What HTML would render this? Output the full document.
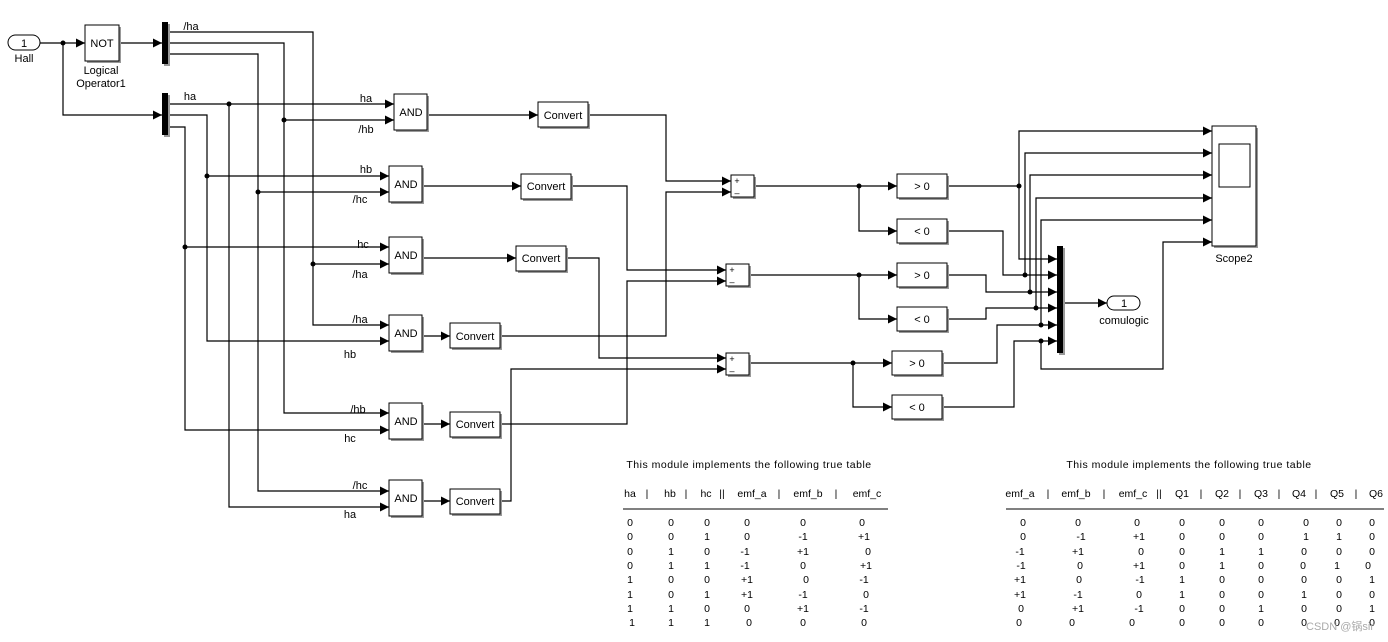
<!DOCTYPE html>
<html><head><meta charset="utf-8"><style>
html,body{margin:0;padding:0;background:#fff;}
svg{display:block;font-family:"Liberation Sans","Noto Sans CJK SC",sans-serif;}
</style></head><body>
<svg width="1388" height="642" viewBox="0 0 1388 642" xmlns="http://www.w3.org/2000/svg">
<defs>
<marker id="a" viewBox="0 0 10 10" refX="10" refY="5" markerWidth="9" markerHeight="9" markerUnits="userSpaceOnUse" orient="auto"><path d="M0,0L10,5L0,10z" fill="#000"/></marker>
</defs>
<rect width="1388" height="642" fill="#fff"/>
<g fill="none" stroke="#000" stroke-width="1.2" marker-end="url(#a)">
<path d="M40,43H85"/>
<path d="M63,43V115H162"/>
<path d="M119,43H162"/>
<path d="M168,32H313V325H389"/>
<path d="M313,264H389"/>
<path d="M168,43H284V413H389"/>
<path d="M284,120H394"/>
<path d="M168,54H258V491H389"/>
<path d="M258,192H389"/>
<path d="M168,104H394"/>
<path d="M229,104V507H389"/>
<path d="M168,115H207V341H389"/>
<path d="M207,176H389"/>
<path d="M168,127H185V430H389"/>
<path d="M185,247H389"/>
<path d="M427,115H538"/>
<path d="M422,186H521"/>
<path d="M422,258H516"/>
<path d="M422,336H450"/>
<path d="M422,424H450"/>
<path d="M422,501H450"/>
<path d="M588,115H666V181H731"/>
<path d="M500,336H666V192H731"/>
<path d="M571,186H627V270H726"/>
<path d="M500,424H627V281H726"/>
<path d="M566,258H599V358H726"/>
<path d="M500,501H511V369H726"/>
<path d="M754,186H897"/>
<path d="M859,186V231H897"/>
<path d="M748,275H897"/>
<path d="M859,275V319H897"/>
<path d="M748,363H892"/>
<path d="M853,363V407H892"/>
<path d="M947,186H1019V259H1057"/>
<path d="M1019,186V131H1212"/>
<path d="M947,231H1003V275H1057"/>
<path d="M1025,275V153H1212"/>
<path d="M947,275H986V292H1057"/>
<path d="M1030,292V175H1212"/>
<path d="M947,319H986V308H1057"/>
<path d="M1036,308V198H1212"/>
<path d="M942,363H997V325H1057"/>
<path d="M1041,325V220H1212"/>
<path d="M942,407H1014V341H1057"/>
<path d="M1041,341V369H1163V242H1212"/>
<path d="M1063,303H1107"/>
</g>
<g fill="#000">
<circle cx="63" cy="43" r="2.5"/><circle cx="313" cy="264" r="2.5"/><circle cx="284" cy="120" r="2.5"/>
<circle cx="258" cy="192" r="2.5"/><circle cx="229" cy="104" r="2.5"/><circle cx="207" cy="176" r="2.5"/>
<circle cx="185" cy="247" r="2.5"/><circle cx="859" cy="186" r="2.5"/><circle cx="859" cy="275" r="2.5"/>
<circle cx="853" cy="363" r="2.5"/><circle cx="1019" cy="186" r="2.5"/><circle cx="1025" cy="275" r="2.5"/>
<circle cx="1030" cy="292" r="2.5"/><circle cx="1036" cy="308" r="2.5"/><circle cx="1041" cy="325" r="2.5"/>
<circle cx="1041" cy="341" r="2.5"/>
</g>
<g fill="#999">
<rect x="87" y="27" width="34" height="36"/>
<rect x="396" y="96" width="33" height="36"/><rect x="391" y="168" width="33" height="36"/><rect x="391" y="239" width="33" height="36"/>
<rect x="391" y="317" width="33" height="36"/><rect x="391" y="405" width="33" height="36"/><rect x="391" y="482" width="33" height="36"/>
<rect x="540" y="104" width="50" height="25"/><rect x="523" y="176" width="50" height="25"/><rect x="518" y="248" width="50" height="25"/>
<rect x="452" y="325" width="50" height="25"/><rect x="452" y="414" width="50" height="25"/><rect x="452" y="491" width="50" height="25"/>
<rect x="733" y="177" width="23" height="22"/><rect x="728" y="266" width="23" height="22"/><rect x="728" y="355" width="23" height="22"/>
<rect x="899" y="176" width="50" height="24"/><rect x="899" y="221" width="50" height="24"/><rect x="899" y="265" width="50" height="24"/>
<rect x="899" y="309" width="50" height="24"/><rect x="894" y="353" width="50" height="24"/><rect x="894" y="397" width="50" height="24"/>
<rect x="1214" y="128" width="44" height="120"/>
<rect x="164" y="24" width="6" height="42"/><rect x="164" y="95" width="6" height="42"/><rect x="1059" y="248" width="6" height="107"/>
</g>
<g fill="#fff" stroke="#000" stroke-width="1">
<rect x="85" y="25" width="34" height="36"/>
<rect x="394" y="94" width="33" height="36"/><rect x="389" y="166" width="33" height="36"/><rect x="389" y="237" width="33" height="36"/>
<rect x="389" y="315" width="33" height="36"/><rect x="389" y="403" width="33" height="36"/><rect x="389" y="480" width="33" height="36"/>
<rect x="538" y="102" width="50" height="25"/><rect x="521" y="174" width="50" height="25"/><rect x="516" y="246" width="50" height="25"/>
<rect x="450" y="323" width="50" height="25"/><rect x="450" y="412" width="50" height="25"/><rect x="450" y="489" width="50" height="25"/>
<rect x="731" y="175" width="23" height="22"/><rect x="726" y="264" width="23" height="22"/><rect x="726" y="353" width="23" height="22"/>
<rect x="897" y="174" width="50" height="24"/><rect x="897" y="219" width="50" height="24"/><rect x="897" y="263" width="50" height="24"/>
<rect x="897" y="307" width="50" height="24"/><rect x="892" y="351" width="50" height="24"/><rect x="892" y="395" width="50" height="24"/>
<rect x="1212" y="126" width="44" height="120"/>
<rect x="1219" y="144" width="31" height="43"/>
<rect x="8" y="35" width="32" height="15" rx="7.5"/>
<rect x="1107" y="296" width="33" height="14" rx="7"/>
</g>
<g fill="#000">
<rect x="162" y="22" width="6" height="42"/><rect x="162" y="93" width="6" height="42"/><rect x="1057" y="246" width="6" height="107"/>
</g>
<g font-size="11" fill="#000" text-anchor="middle">
<text x="24" y="47">1</text><text x="24" y="62">Hall</text>
<text x="102" y="47">NOT</text><text x="101" y="74">Logical</text><text x="101" y="87">Operator1</text>
<text x="411" y="116">AND</text><text x="406" y="188">AND</text><text x="406" y="259">AND</text>
<text x="406" y="337">AND</text><text x="406" y="425">AND</text><text x="406" y="502">AND</text>
<text x="563" y="119">Convert</text><text x="546" y="190">Convert</text><text x="541" y="262">Convert</text>
<text x="475" y="340">Convert</text><text x="475" y="428">Convert</text><text x="475" y="505">Convert</text>
<text x="922" y="190">&gt; 0</text><text x="922" y="235">&lt; 0</text><text x="922" y="279">&gt; 0</text>
<text x="922" y="323">&lt; 0</text><text x="917" y="367">&gt; 0</text><text x="917" y="411">&lt; 0</text>
<text x="1124" y="307">1</text><text x="1124" y="324">comulogic</text>
<text x="1234" y="262">Scope2</text>
<text x="191" y="30">/ha</text><text x="190" y="100">ha</text>
<text x="366" y="102">ha</text><text x="366" y="133">/hb</text>
<text x="366" y="173">hb</text><text x="360" y="203">/hc</text>
<text x="363" y="248">hc</text><text x="360" y="278">/ha</text>
<text x="360" y="323">/ha</text><text x="350" y="358">hb</text>
<text x="358" y="413">/hb</text><text x="350" y="442">hc</text>
<text x="360" y="489">/hc</text><text x="350" y="518">ha</text>
</g>
<g font-size="9" text-anchor="middle">
<text x="737" y="184">+</text><text x="737" y="196">–</text>
<text x="732" y="273">+</text><text x="732" y="285">–</text>
<text x="732" y="362">+</text><text x="732" y="374">–</text>
</g>
<g font-size="10.5" fill="#000" text-anchor="middle">
<text x="749" y="468" letter-spacing="0.5">This module implements the following true table</text>
<text x="630" y="497">ha</text><text x="647" y="497">|</text><text x="670" y="497">hb</text><text x="686" y="497">|</text>
<text x="706" y="497">hc</text><text x="722" y="497">||</text><text x="752" y="497">emf_a</text><text x="779" y="497">|</text>
<text x="808" y="497">emf_b</text><text x="836" y="497">|</text><text x="867" y="497">emf_c</text>
<text x="630" y="526">0</text><text x="671" y="526">0</text><text x="707" y="526">0</text><text x="747" y="526">0</text><text x="803" y="526">0</text><text x="862" y="526">0</text>
<text x="630" y="540">0</text><text x="671" y="540">0</text><text x="707" y="540">1</text><text x="747" y="540">0</text><text x="803" y="540">-1</text><text x="864" y="540">+1</text>
<text x="630" y="555">0</text><text x="671" y="555">1</text><text x="707" y="555">0</text><text x="745" y="555">-1</text><text x="803" y="555">+1</text><text x="868" y="555">0</text>
<text x="630" y="569">0</text><text x="671" y="569">1</text><text x="707" y="569">1</text><text x="745" y="569">-1</text><text x="803" y="569">0</text><text x="866" y="569">+1</text>
<text x="630" y="583">1</text><text x="671" y="583">0</text><text x="707" y="583">0</text><text x="747" y="583">+1</text><text x="806" y="583">0</text><text x="864" y="583">-1</text>
<text x="630" y="598">1</text><text x="671" y="598">0</text><text x="707" y="598">1</text><text x="747" y="598">+1</text><text x="803" y="598">-1</text><text x="866" y="598">0</text>
<text x="630" y="612">1</text><text x="671" y="612">1</text><text x="707" y="612">0</text><text x="747" y="612">0</text><text x="803" y="612">+1</text><text x="864" y="612">-1</text>
<text x="632" y="626">1</text><text x="671" y="626">1</text><text x="707" y="626">1</text><text x="749" y="626">0</text><text x="803" y="626">0</text><text x="864" y="626">0</text>
</g>
<line x1="623" y1="509" x2="888" y2="509" stroke="#000" stroke-width="1"/>
<g font-size="10.5" fill="#000" text-anchor="middle">
<text x="1189" y="468" letter-spacing="0.5">This module implements the following true table</text>
<text x="1020" y="497">emf_a</text><text x="1048" y="497">|</text><text x="1076" y="497">emf_b</text><text x="1104" y="497">|</text>
<text x="1133" y="497">emf_c</text><text x="1159" y="497">||</text><text x="1182" y="497">Q1</text><text x="1201" y="497">|</text>
<text x="1222" y="497">Q2</text><text x="1240" y="497">|</text><text x="1261" y="497">Q3</text><text x="1279" y="497">|</text>
<text x="1299" y="497">Q4</text><text x="1316" y="497">|</text><text x="1337" y="497">Q5</text><text x="1356" y="497">|</text><text x="1376" y="497">Q6</text>
</g>
<line x1="1006" y1="509" x2="1384" y2="509" stroke="#000" stroke-width="1"/>
<g font-size="10.5" fill="#000" text-anchor="middle">
<text x="1023" y="526">0</text><text x="1078" y="526">0</text><text x="1137" y="526">0</text><text x="1182" y="526">0</text><text x="1222" y="526">0</text><text x="1261" y="526">0</text><text x="1306" y="526">0</text><text x="1339" y="526">0</text><text x="1372" y="526">0</text>
<text x="1023" y="540">0</text><text x="1081" y="540">-1</text><text x="1139" y="540">+1</text><text x="1182" y="540">0</text><text x="1222" y="540">0</text><text x="1261" y="540">0</text><text x="1306" y="540">1</text><text x="1339" y="540">1</text><text x="1372" y="540">0</text>
<text x="1020" y="555">-1</text><text x="1078" y="555">+1</text><text x="1141" y="555">0</text><text x="1182" y="555">0</text><text x="1222" y="555">1</text><text x="1261" y="555">1</text><text x="1304" y="555">0</text><text x="1339" y="555">0</text><text x="1372" y="555">0</text>
<text x="1021" y="569">-1</text><text x="1080" y="569">0</text><text x="1139" y="569">+1</text><text x="1182" y="569">0</text><text x="1222" y="569">1</text><text x="1261" y="569">0</text><text x="1303" y="569">0</text><text x="1337" y="569">1</text><text x="1368" y="569">0</text>
<text x="1020" y="583">+1</text><text x="1079" y="583">0</text><text x="1140" y="583">-1</text><text x="1182" y="583">1</text><text x="1222" y="583">0</text><text x="1261" y="583">0</text><text x="1304" y="583">0</text><text x="1339" y="583">0</text><text x="1372" y="583">1</text>
<text x="1020" y="598">+1</text><text x="1078" y="598">-1</text><text x="1139" y="598">0</text><text x="1182" y="598">1</text><text x="1222" y="598">0</text><text x="1261" y="598">0</text><text x="1304" y="598">1</text><text x="1339" y="598">0</text><text x="1372" y="598">0</text>
<text x="1021" y="612">0</text><text x="1078" y="612">+1</text><text x="1139" y="612">-1</text><text x="1182" y="612">0</text><text x="1222" y="612">0</text><text x="1261" y="612">1</text><text x="1304" y="612">0</text><text x="1339" y="612">0</text><text x="1372" y="612">1</text>
<text x="1019" y="626">0</text><text x="1072" y="626">0</text><text x="1132" y="626">0</text><text x="1182" y="626">0</text><text x="1222" y="626">0</text><text x="1261" y="626">0</text><text x="1304" y="626">0</text><text x="1337" y="626">0</text><text x="1372" y="626">0</text>
</g>
<text x="1340" y="630" font-size="11" fill="#aaa" text-anchor="middle">CSDN @锅sir</text>
</svg>
</body></html>
